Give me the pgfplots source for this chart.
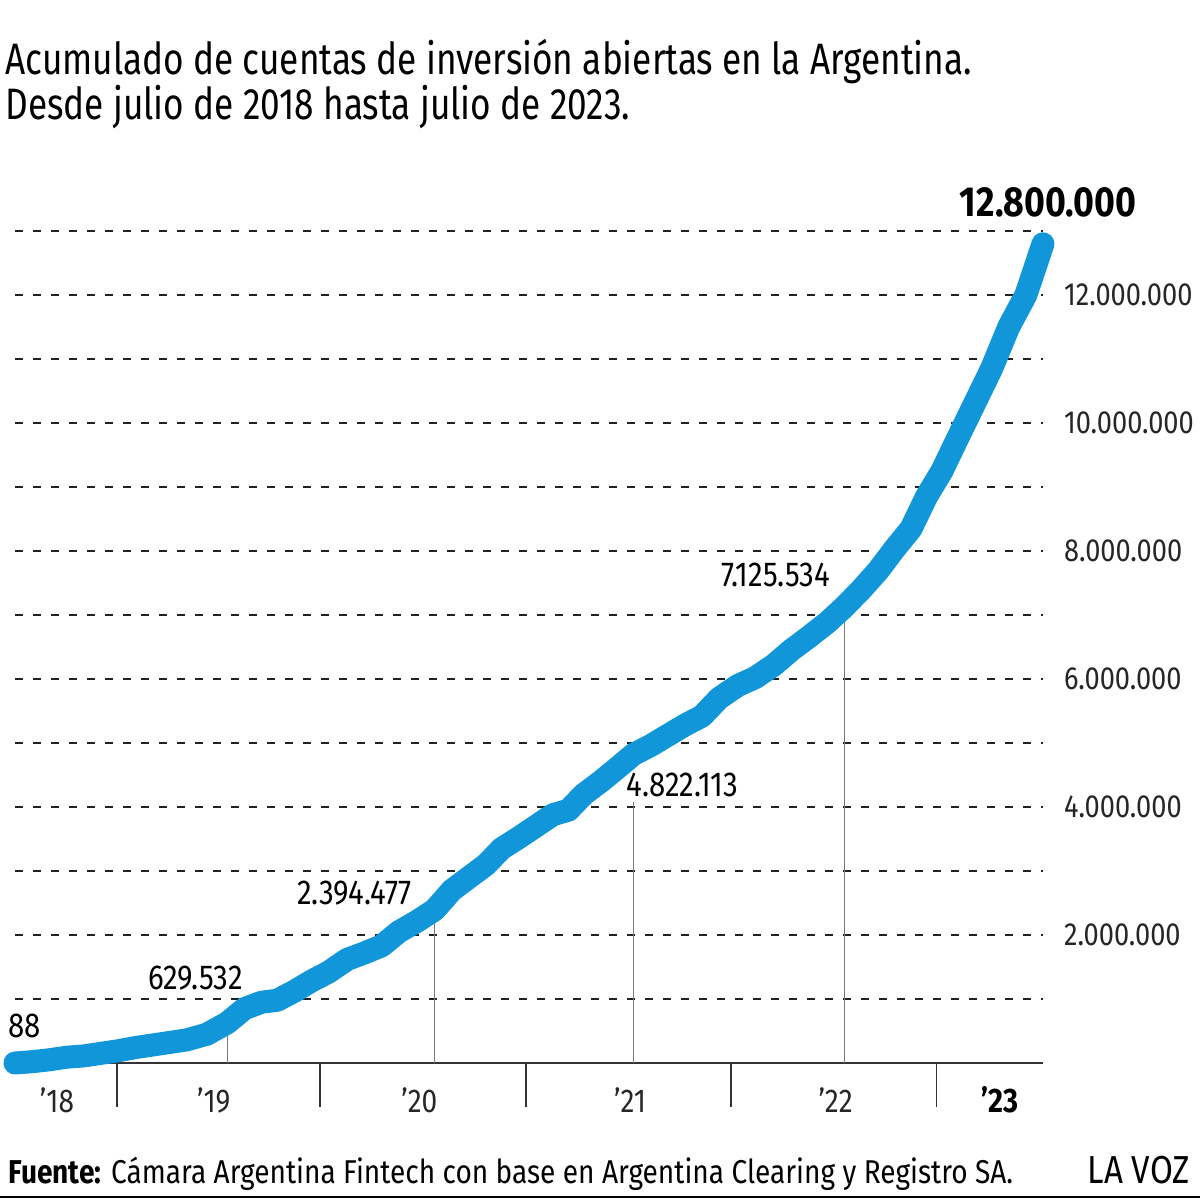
\documentclass[border=0pt]{standalone}
\usepackage{fontspec}
\setmainfont{Fira Sans}[FakeStretch=0.85]
\newfontfamily\titlefont{Fira Sans}[FakeStretch=0.80]
\usepackage{pgfplots}
\pgfplotsset{compat=1.18}
\definecolor{lineblue}{HTML}{1196D9}
\definecolor{gridgray}{HTML}{222222}
\definecolor{leadgray}{HTML}{7A7A7A}

% Accumulated investment accounts, monthly, Jul 2018 (0) .. Jul 2023 (60)
\begin{document}
\begin{tikzpicture}
\path[use as bounding box] (0,0) rectangle (600pt,600pt);

% title
\node[anchor=base west, inner sep=0pt, font=\titlefont\fontsize{22pt}{24pt}\selectfont]
  at (2.5pt,562.5pt) {Acumulado de cuentas de inversión abiertas en la Argentina.};
\node[anchor=base west, inner sep=0pt, font=\titlefont\fontsize{22pt}{24pt}\selectfont]
  at (2.5pt,540pt) {Desde julio de 2018 hasta julio de 2023.};

\begin{axis}[
  at={(7.5pt,68.5pt)}, anchor=south west,
  scale only axis, width=514pt, height=416pt,
  xmin=0, xmax=60, ymin=0, ymax=13000000,
  clip=false,
  axis line style={draw=none},
  major tick length=0pt,
  xtick=\empty,
  ytick={1000000,2000000,3000000,4000000,5000000,6000000,7000000,8000000,9000000,10000000,11000000,12000000,13000000},
  yticklabels={,2.000.000,,4.000.000,,6.000.000,,8.000.000,,10.000.000,,12.000.000,},
  yticklabel pos=right,
  scaled y ticks=false,
  yticklabel style={anchor=west, xshift=7pt, font=\fontsize{16pt}{18pt}\selectfont, text=black!85},
  ymajorgrids,
  grid style={gridgray, line width=0.7pt, dash pattern=on 4pt off 5pt},
]
% baseline and year separators
\draw[black!80, line width=1pt] (axis cs:0,0) -- (axis cs:60,0);
\pgfplotsinvokeforeach{5.95,17.8,29.83,41.8,53.77}{
  \draw[black!80, line width=0.75pt] (axis cs:#1,0) -- (axis cs:#1,-690000);
}

% leader lines to labelled values
\draw[leadgray, line width=0.7pt] (axis cs:12.4,0) -- (axis cs:12.4,629532);
\draw[leadgray, line width=0.7pt] (axis cs:24.5,0) -- (axis cs:24.5,2394477);
\draw[leadgray, line width=0.7pt] (axis cs:36.1,0) -- (axis cs:36.1,4080000);
\draw[leadgray, line width=0.7pt] (axis cs:48.4,0) -- (axis cs:48.4,7125534);

\addplot[lineblue, line width=11.5pt, line cap=round, line join=round] coordinates {
(0,88) (1,20000) (2,50000) (3,90000) (4,110000) (5,150000) (6,190000)
(7,240000) (8,280000) (9,320000) (10,360000) (11.2,450000) (12.4,629532)
(13.4,850000) (14.4,950000) (15.3,980000) (16.3,1120000) (17.3,1280000) (18.3,1420000)
(19.4,1620000) (20.4,1720000) (21.4,1830000) (22.4,2050000) (23.5,2220000) (24.5,2394477)
(25.5,2700000) (26.5,2900000) (27.5,3100000) (28.4,3350000) (29.4,3520000) (30.4,3700000)
(31.4,3880000) (32.3,3950000) (33.2,4200000) (34.2,4400000) (35.2,4620000) (36.1,4822113)
(37.1,4960000) (38.1,5120000) (39.1,5280000) (40.1,5420000) (41.1,5700000) (42.2,5900000)
(43.2,6020000) (44.3,6220000) (45.3,6450000) (46.3,6650000) (47.4,6880000) (48.4,7125534)
(49.4,7400000) (50.4,7700000) (51.3,8020000) (52.3,8350000) (53.2,8850000) (54.1,9250000)
(55,9750000) (56,10300000) (57,10850000) (58,11500000) (59,12000000) (60,12800000)
};

% value labels
\tikzset{vlab/.style={anchor=base west, inner sep=0pt, font=\fontsize{17.3pt}{19pt}\selectfont}}
\node[vlab] at (axis cs:-0.41,406000) {88};
\node[vlab] at (axis cs:7.76,1156000) {629.532};
\node[vlab] at (axis cs:16.46,2470000) {2.394.477};
\node[vlab] at (axis cs:35.67,4160000) {4.822.113};
\node[vlab] at (axis cs:41.2,7450000) {7.125.534};
\node[anchor=base, inner sep=0pt, font=\fontsize{21pt}{22pt}\selectfont\bfseries] at (axis cs:60.3,13220000) {12.800.000};

% year labels
\tikzset{ylab/.style={anchor=base, inner sep=0pt, font=\fontsize{16.5pt}{18pt}\selectfont, text=black!85}}
\node[ylab] at (axis cs:2.45,-780000) {’18};
\node[ylab] at (axis cs:11.6,-780000) {’19};
\node[ylab] at (axis cs:23.6,-780000) {’20};
\node[ylab] at (axis cs:35.9,-780000) {’21};
\node[ylab] at (axis cs:47.9,-780000) {’22};
\node[ylab, font=\fontsize{17pt}{18pt}\selectfont\bfseries, text=black] at (axis cs:57.5,-780000) {’23};
\end{axis}

% source line and rule
\node[anchor=base west, inner sep=0pt, font=\fontsize{16.5pt}{18pt}\selectfont]
  at (4pt,8.5pt) {\textbf{Fuente:} Cámara Argentina Fintech con base en Argentina Clearing y Registro SA.};
\node[anchor=base east, inner sep=0pt, font=\fontsize{19.5pt}{20pt}\selectfont]
  at (595pt,8.5pt) {LA VOZ};
\draw[black, line width=1.2pt] (0,1.5pt) -- (600pt,1.5pt);
\end{tikzpicture}
\end{document}
